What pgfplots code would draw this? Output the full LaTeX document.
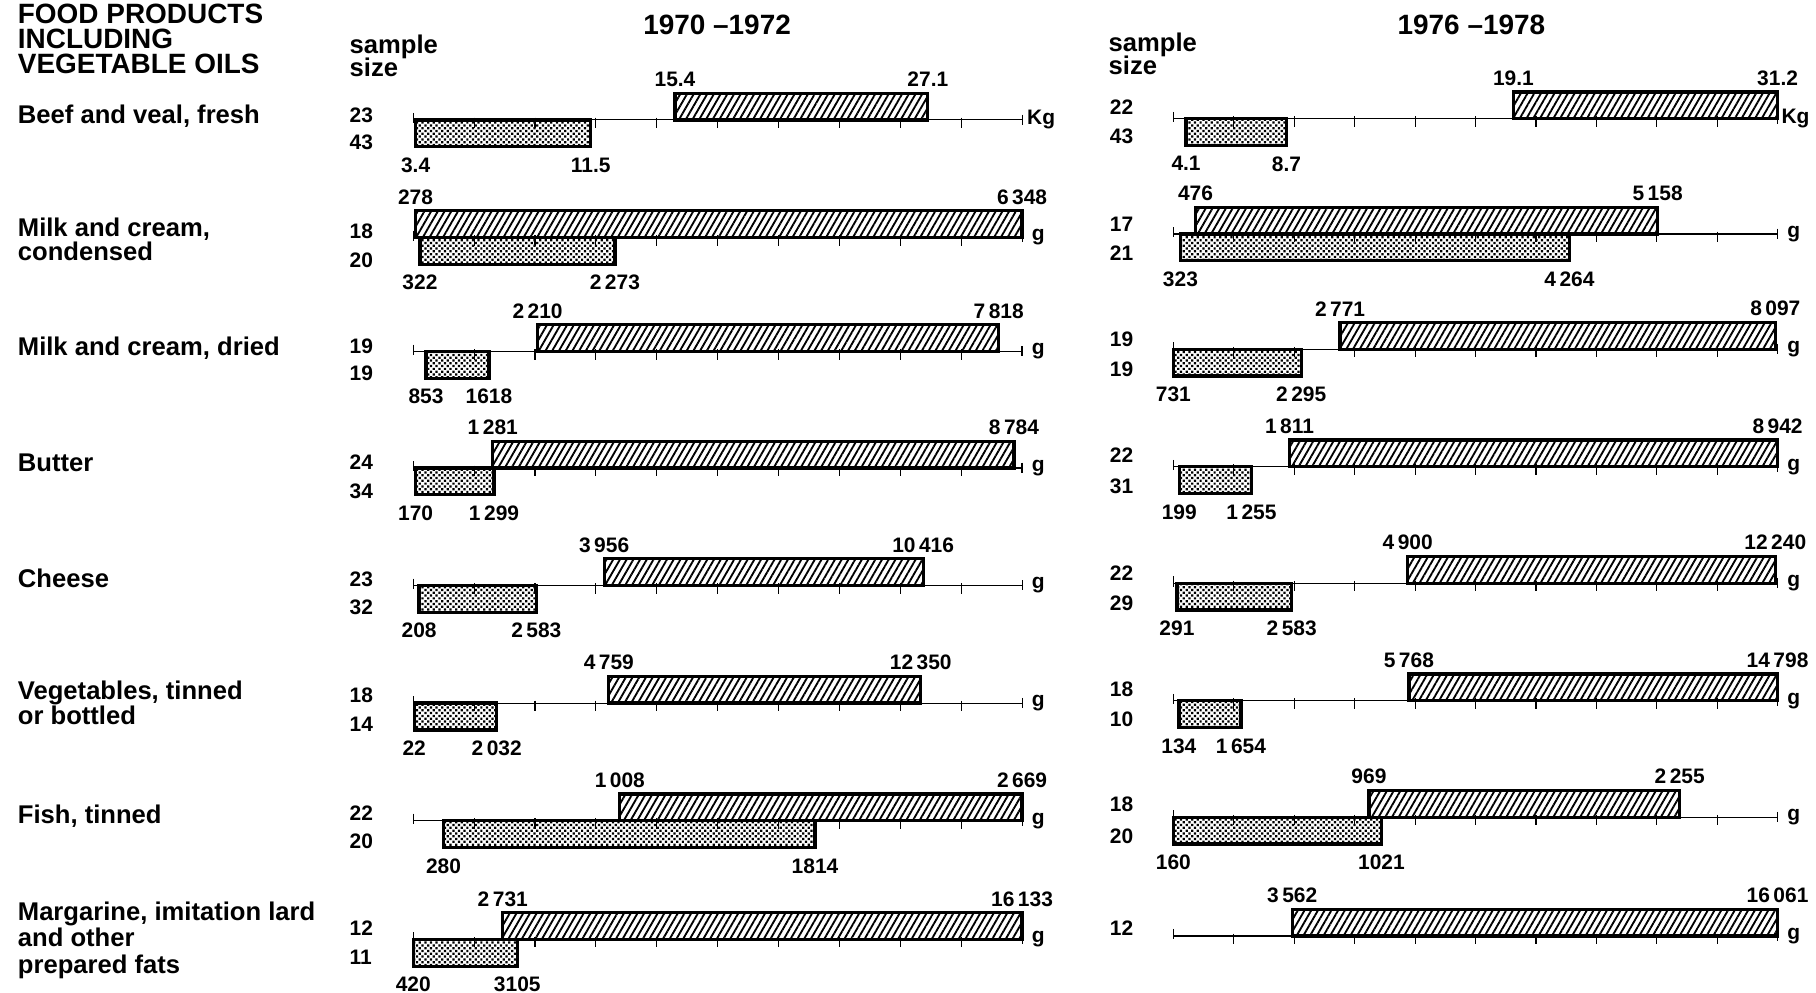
\documentclass[border=0pt]{standalone}
\usepackage{fontspec}
\setmainfont{Liberation Sans}
\usepackage{pgfplots}
\pgfplotsset{compat=1.18}
\usetikzlibrary{patterns,patterns.meta}

\newcommand{\hdrf}{\fontsize{12}{12}\selectfont\bfseries}
\newcommand{\labf}{\fontsize{11}{11}\selectfont\bfseries}
\newcommand{\numf}{\fontsize{9}{9}\selectfont\bfseries}

\pgfplotsset{
  rowax/.style={scale only axis, hide axis, clip=false, ymin=-1, ymax=1, height=23pt, anchor=west},
  p1/.style={width=261.5pt},
  p2/.style={width=259.5pt},
}
\tikzset{
  hatchbar/.style={draw=black, line width=1.4pt, pattern={Lines[angle=60,distance=2.5pt,line width=0.8pt]}},
  dotbar/.style={draw=black, line width=1.4pt, pattern={Dots[distance=1.7pt,radius=0.68pt,angle=45]}},
  vlab/.style={font=\numf, inner sep=0pt},
}

\newcommand{\axisline}[2]{%
  \draw[line width=0.5pt] (rel axis cs:0,0.5) -- (rel axis cs:1,0.5);
  \pgfplotsinvokeforeach{0.1,0.2,0.3,0.4,0.5,0.6,0.7,0.8,0.9}{\draw[line width=0.5pt] (rel axis cs:##1,0.545) -- (rel axis cs:##1,0.35);}
  \draw[line width=0.5pt] (rel axis cs:0,0.63) -- (rel axis cs:0,0.435);
  \draw[line width=0.5pt] (rel axis cs:1,0.6) -- (rel axis cs:1,0.41);
  \node[font=\numf, anchor=west, inner sep=0pt, xshift=#2] at (rel axis cs:1,0.5) {#1};
}
\newcommand{\hatchrange}[4]{%
  \addplot[hatchbar] coordinates {(#1,0) (#2,0) (#2,1) (#1,1)} -- cycle;
  \node[vlab, anchor=south, yshift=2.5pt] at (axis cs:#1,1) {#3};
  \node[vlab, anchor=south, yshift=2.5pt] at (axis cs:#2,1) {#4};
}
\newcommand{\dotrange}[4]{%
  \addplot[dotbar] coordinates {(#1,-1) (#2,-1) (#2,0) (#1,0)} -- cycle;
  \node[vlab, anchor=north, yshift=-4.5pt] at (axis cs:#1,-1) {#3};
  \node[vlab, anchor=north, yshift=-4.5pt] at (axis cs:#2,-1) {#4};
}

\begin{document}
\begin{tikzpicture}
\useasboundingbox (0,0) rectangle (780pt,-426.5pt);

\begin{scope}[x=0.5pt,y=-0.5pt]
  % header
  \node[font=\hdrf, anchor=base west, inner sep=0pt] at (15,20) {FOOD PRODUCTS};
  \node[font=\hdrf, anchor=base west, inner sep=0pt] at (15,41.5) {INCLUDING};
  \node[font=\hdrf, anchor=base west, inner sep=0pt] at (15,63) {VEGETABLE OILS};
  \node[font=\hdrf, anchor=base, inner sep=0pt] at (616,30) {1970 --1972};
  \node[font=\hdrf, anchor=base, inner sep=0pt] at (1264,30) {1976 --1978};
  \node[font=\labf, anchor=base west, inner sep=0pt] at (300,46) {sample};
  \node[font=\labf, anchor=base west, inner sep=0pt] at (300,66) {size};
  \node[font=\labf, anchor=base west, inner sep=0pt] at (952,44) {sample};
  \node[font=\labf, anchor=base west, inner sep=0pt] at (952,64) {size};
  % row labels
  \begin{scope}[every node/.style={font=\labf, anchor=base west, inner sep=0pt}]
    \node at (15,106) {Beef and veal, fresh};
    \node at (15,203) {Milk and cream,};
    \node at (15,224) {condensed};
    \node at (15,305) {Milk and cream, dried};
    \node at (15,405) {Butter};
    \node at (15,505) {Cheese};
    \node at (15,601) {Vegetables, tinned};
    \node at (15,622) {or bottled};
    \node at (15,707) {Fish, tinned};
    \node at (15,791) {Margarine, imitation lard};
    \node at (15,813) {and other};
    \node at (15,836) {prepared fats};
  \end{scope}
  % sample sizes
  \begin{scope}[every node/.style={font=\numf, anchor=base west, inner sep=0pt}]
    \node at (300,105.5) {23}; \node at (300,128.5) {43};
    \node at (300,204.5) {18}; \node at (300,229.5) {20};
    \node at (300,303.5) {19}; \node at (300,326.5) {19};
    \node at (300,403.5) {24}; \node at (300,428.5) {34};
    \node at (300,503.5) {23}; \node at (300,527.5) {32};
    \node at (300,603.5) {18}; \node at (300,628.5) {14};
    \node at (300,704.5) {22}; \node at (300,728.5) {20};
    \node at (300,803.5) {12}; \node at (300,828.5) {11};
    \node at (953,98.5) {22}; \node at (953,123.5) {43};
    \node at (953,198.5) {17}; \node at (953,223.5) {21};
    \node at (953,297.5) {19}; \node at (953,323.5) {19};
    \node at (953,397.5) {22}; \node at (953,423.5) {31};
    \node at (953,498.5) {22}; \node at (953,524.5) {29};
    \node at (953,598.5) {18}; \node at (953,624.5) {10};
    \node at (953,697.5) {18}; \node at (953,724.5) {20};
    \node at (953,803.5) {12};
  \end{scope}
\end{scope}

% ===== 1970-1972 =====
\begin{axis}[rowax,p1,at={(177.5pt,-51.5pt)},xmin=3.29,xmax=31.46]
\axisline{Kg}{2pt}
\dotrange{3.4}{11.5}{3.4}{11.5}
\hatchrange{15.4}{27.1}{15.4}{27.1}
\end{axis}
\begin{axis}[rowax,p1,at={(177.5pt,-102pt)},xmin=255,xmax=6348]
\axisline{g}{4pt}
\dotrange{322}{2273}{322}{2\,273}
\hatchrange{278}{6348}{278}{6\,348}
\end{axis}
\begin{axis}[rowax,p1,at={(177.5pt,-151pt)},xmin=698,xmax=8102]
\axisline{g}{4pt}
\dotrange{853}{1618}{853}{1618}
\hatchrange{2210}{7818}{2\,210}{7\,818}
\end{axis}
\begin{axis}[rowax,p1,at={(177.5pt,-201pt)},xmin=136,xmax=8901]
\axisline{g}{4pt}
\dotrange{170}{1299}{170}{1\,299}
\hatchrange{1281}{8784}{1\,281}{8\,784}
\end{axis}
\begin{axis}[rowax,p1,at={(177.5pt,-251.5pt)},xmin=90,xmax=12419]
\axisline{g}{4pt}
\dotrange{208}{2583}{208}{2\,583}
\hatchrange{3956}{10416}{3\,956}{10\,416}
\end{axis}
\begin{axis}[rowax,p1,at={(177.5pt,-302pt)},xmin=0,xmax=14815]
\axisline{g}{4pt}
\dotrange{22}{2032}{22}{2\,032}
\hatchrange{4759}{12350}{4\,759}{12\,350}
\end{axis}
\begin{axis}[rowax,p1,at={(177.5pt,-352.5pt)},xmin=155,xmax=2669]
\axisline{g}{4pt}
\dotrange{280}{1814}{280}{1814}
\hatchrange{1008}{2669}{1\,008}{2\,669}
\end{axis}
\begin{axis}[rowax,p1,at={(177.5pt,-403.5pt)},xmin=420,xmax=16133]
\axisline{g}{4pt}
\dotrange{420}{3105}{420}{3105}
\hatchrange{2731}{16133}{2\,731}{16\,133}
\end{axis}

% ===== 1976-1978 =====
\begin{axis}[rowax,p2,at={(504pt,-51pt)},xmin=3.52,xmax=31.2]
\axisline{Kg}{1.5pt}
\dotrange{4.1}{8.7}{4.1}{8.7}
\hatchrange{19.1}{31.2}{19.1}{31.2}
\end{axis}
\begin{axis}[rowax,p2,at={(504pt,-100.5pt)},xmin=252,xmax=6373]
\axisline{g}{4pt}
\dotrange{323}{4264}{323}{4\,264}
\hatchrange{476}{5158}{476}{5\,158}
\end{axis}
\begin{axis}[rowax,p2,at={(504pt,-150pt)},xmin=731,xmax=8125]
\axisline{g}{4pt}
\dotrange{731}{2295}{731}{2\,295}
\hatchrange{2771}{8097}{2\,771}{8\,097}
\end{axis}
\begin{axis}[rowax,p2,at={(504pt,-200.5pt)},xmin=114,xmax=8942]
\axisline{g}{4pt}
\dotrange{199}{1255}{199}{1\,255}
\hatchrange{1811}{8942}{1\,811}{8\,942}
\end{axis}
\begin{axis}[rowax,p2,at={(504pt,-250.5pt)},xmin=221,xmax=12285]
\axisline{g}{4pt}
\dotrange{291}{2583}{291}{2\,583}
\hatchrange{4900}{12240}{4\,900}{12\,240}
\end{axis}
\begin{axis}[rowax,p2,at={(504pt,-301pt)},xmin=0,xmax=14798]
\axisline{g}{4pt}
\dotrange{134}{1654}{134}{1\,654}
\hatchrange{5768}{14798}{5\,768}{14\,798}
\end{axis}
\begin{axis}[rowax,p2,at={(504pt,-351pt)},xmin=160,xmax=2660]
\axisline{g}{4pt}
\dotrange{160}{1021}{160}{1021}
\hatchrange{969}{2255}{969}{2\,255}
\end{axis}
\begin{axis}[rowax,p2,at={(504pt,-402pt)},xmin=503,xmax=16061]
\axisline{g}{4pt}
\hatchrange{3562}{16061}{3\,562}{16\,061}
\end{axis}
\end{tikzpicture}
\end{document}
